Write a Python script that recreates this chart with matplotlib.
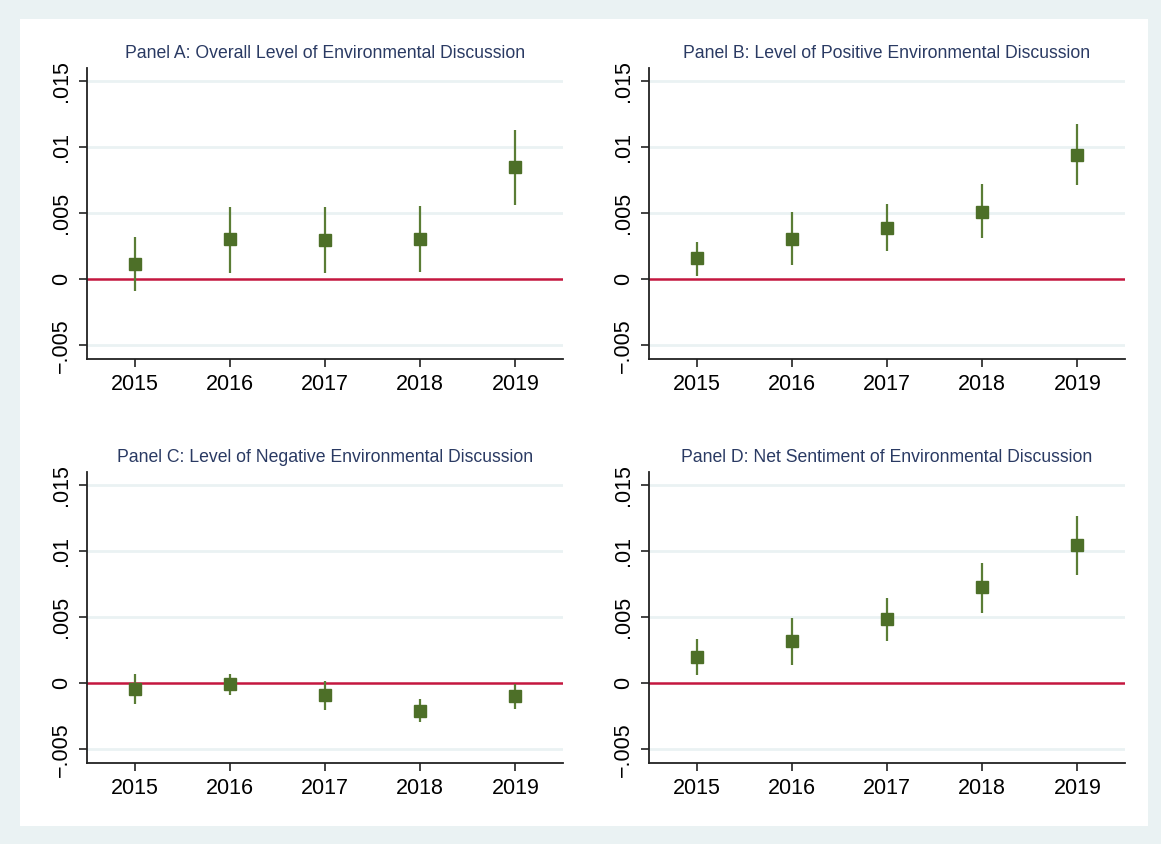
import matplotlib.pyplot as plt
from matplotlib.patches import Rectangle

plt.rcParams["font.family"] = ["Liberation Sans", "DejaVu Sans"]

years = [2015, 2016, 2017, 2018, 2019]

titles = [
    "Panel A: Overall Level of Environmental Discussion",
    "Panel B: Level of Positive Environmental Discussion",
    "Panel C: Level of Negative Environmental Discussion",
    "Panel D: Net Sentiment of Environmental Discussion",
]

# point estimates and 95% bounds per panel
coef_a = [0.00118, 0.00302, 0.00296, 0.00309, 0.00847]
low_a = [-0.00088, 0.00048, 0.00050, 0.00055, 0.00563]
high_a = [0.00317, 0.00550, 0.00545, 0.00558, 0.01131]

coef_b = [0.00161, 0.00309, 0.00392, 0.00513, 0.00943]
low_b = [0.00028, 0.00108, 0.00213, 0.00311, 0.00711]
high_b = [0.00284, 0.00508, 0.00568, 0.00719, 0.01176]

coef_c = [-0.00043, -0.00005, -0.00088, -0.00209, -0.00096]
low_c = [-0.00156, -0.00091, -0.00201, -0.00294, -0.00194]
high_c = [0.00073, 0.00073, 0.00020, -0.00121, -0.00003]

coef_d = [0.00199, 0.00320, 0.00486, 0.00727, 0.01045]
low_d = [0.00065, 0.00141, 0.00320, 0.00536, 0.00821]
high_d = [0.00332, 0.00493, 0.00649, 0.00914, 0.01266]

yticks = [-0.005, 0, 0.005, 0.01, 0.015]
ytick_labels = ["\u2212.005", "0", ".005", ".01", ".015"]

panels = [
    (coef_a, low_a, high_a),
    (coef_b, low_b, high_b),
    (coef_c, low_c, high_c),
    (coef_d, low_d, high_d),
]

W, H = 1161, 844
fig = plt.figure(figsize=(W / 100, H / 100), dpi=100)
fig.patch.set_facecolor("#eaf2f3")
fig.patches.append(Rectangle((20 / W, 1 - 826 / H), 1128 / W, 807 / H,
                             transform=fig.transFigure, facecolor="white",
                             edgecolor="none", zorder=-10))

# axes boxes in pixels: left, top
boxes = [(87, 68), (649, 68), (87, 472), (649, 472)]
ax_w, ax_h = 476, 291

for (coef, low, high), title, (left, top) in zip(panels, titles, boxes):
    ax = fig.add_axes([left / W, 1 - (top + ax_h) / H, ax_w / W, ax_h / H])
    ax.set_facecolor("none")
    ax.set_xlim(2014.5, 2019.5)
    ax.set_ylim(-0.00603, 0.0160)

    for y in yticks:
        if y != 0:
            ax.axhline(y, color="#eaf2f3", lw=2, zorder=1)
    ax.axhline(0, color="#c4173f", lw=1.8, zorder=2)

    ax.vlines(years, low, high, color="#5a7d35", lw=1.6, zorder=3)
    ax.plot(years, coef, ls="none", marker="s", ms=8.8,
            color="#4d6f28", mec="#4d6f28", zorder=4)

    ax.set_xticks(years)
    ax.set_xticklabels([str(y) for y in years], fontsize=15.5)
    ax.set_yticks(yticks)
    ax.set_yticklabels(ytick_labels, fontsize=15.5, rotation=90, va="center")
    ax.tick_params(direction="out", length=6, width=1.2, color="#222222",
                   labelcolor="black", pad=5)

    for side in ("top", "right"):
        ax.spines[side].set_visible(False)
    for side in ("left", "bottom"):
        ax.spines[side].set_color("#222222")
        ax.spines[side].set_linewidth(1.3)

    ax.set_title(title, fontsize=12.7, color="#2a3a63", pad=7.5)

fig.savefig("out.png", dpi=100, facecolor=fig.get_facecolor())
